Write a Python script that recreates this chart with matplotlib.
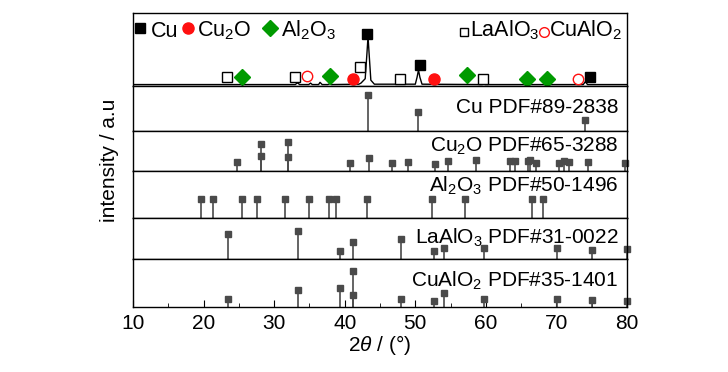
import matplotlib
matplotlib.use("Agg")
from matplotlib import pyplot as plt
from matplotlib.ticker import MultipleLocator

plt.rcParams["font.family"] = ["Liberation Sans", "DejaVu Sans"]
plt.rcParams["mathtext.fontset"] = "custom"
plt.rcParams["mathtext.rm"] = "Liberation Sans"
plt.rcParams["mathtext.it"] = "Liberation Sans:italic"

# measured pattern (top panel), 2theta vs relative intensity
pattern_x = [10, 33.0, 33.3, 33.6, 34.9, 35.15, 35.4, 36.3, 36.5, 36.8, 37.6, 37.85, 38.1,
             42.0, 42.3, 42.9, 43.15, 43.3, 43.45, 43.7, 44.2,
             50.0, 50.25, 50.45, 50.65, 50.95, 59.5, 59.7, 59.9, 73.8, 74.1, 74.4, 80]
pattern_y = [0.02, 0.02, 0.045, 0.02, 0.02, 0.04, 0.02, 0.02, 0.05, 0.02, 0.02, 0.03, 0.02,
             0.025, 0.04, 0.1, 0.45, 0.68, 0.45, 0.08, 0.025,
             0.025, 0.12, 0.22, 0.12, 0.025, 0.02, 0.035, 0.02, 0.02, 0.06, 0.02, 0.02]

# phase markers on the measured pattern
cu_mark_x = [43.1, 50.7, 74.7]
cu_mark_y = [0.71, 0.29, 0.12]
cu2o_mark_x = [41.2, 52.6]
cu2o_mark_y = [0.10, 0.10]
al2o3_mark_x = [25.5, 37.9, 57.3, 65.8, 68.6]
al2o3_mark_y = [0.12, 0.14, 0.15, 0.10, 0.10]
laalo3_mark_x = [23.3, 33.0, 42.2, 47.9, 59.6]
laalo3_mark_y = [0.13, 0.12, 0.26, 0.10, 0.10]
cualo2_mark_x = [34.6, 73.1]
cualo2_mark_y = [0.14, 0.10]

# reference cards
cu_pdf_x = [43.3, 50.4, 74.1]
cu_pdf_h = [0.80, 0.43, 0.24]
cu2o_pdf_x = [24.7, 28.1, 28.1, 31.9, 31.9, 40.7, 43.5, 46.7, 49.0, 52.8, 54.7, 58.6,
              63.4, 64.1, 65.9, 66.3, 67.1, 70.3, 71.0, 71.8, 74.4, 79.7]
cu2o_pdf_h = [0.22, 0.67, 0.37, 0.72, 0.34, 0.19, 0.33, 0.19, 0.22, 0.18, 0.26, 0.27,
              0.25, 0.24, 0.25, 0.28, 0.19, 0.19, 0.24, 0.22, 0.22, 0.19]
al2o3_pdf_x = [19.6, 21.3, 25.5, 27.5, 31.6, 35.0, 37.8, 38.7, 43.2, 52.3, 57.1, 66.5, 68.1]
al2o3_pdf_h = [0.40] * 13
laalo3_pdf_x = [23.4, 33.4, 39.3, 41.2, 48.0, 52.6, 54.1, 59.8, 70.1, 75.1, 80.0]
laalo3_pdf_h = [0.60, 0.68, 0.20, 0.41, 0.49, 0.20, 0.28, 0.28, 0.27, 0.22, 0.25]
cualo2_pdf_x = [23.4, 33.4, 39.3, 41.2, 41.2, 48.0, 52.6, 54.1, 59.8, 70.1, 75.1, 80.0]
cualo2_pdf_h = [0.16, 0.36, 0.40, 0.74, 0.25, 0.16, 0.13, 0.29, 0.17, 0.16, 0.14, 0.13]

card_labels = ["Cu PDF#89-2838", "Cu$_2$O PDF#65-3288", "Al$_2$O$_3$ PDF#50-1496",
               "LaAlO$_3$ PDF#31-0022", "CuAlO$_2$ PDF#35-1401"]

RED = "#ff1010"
GREEN = "#009a00"
STICK = "#4a4a4a"


def draw_sticks(ax, xs, hs, label, label_y):
    """
    Draw stick pattern of a reference card
    """
    ax.vlines(xs, 0, hs, color=STICK, lw=1.2)
    ax.plot(xs, hs, "s", color=STICK, ms=4.5, clip_on=False)
    ax.text(0.982, label_y, label, transform=ax.transAxes, ha="right",
            va="baseline", fontsize=15)


fig, axes = plt.subplots(6, 1, figsize=(7.28, 3.72), dpi=100, sharex=True,
                         gridspec_kw=dict(height_ratios=[73, 45, 40, 47, 41, 48], hspace=0))
fig.subplots_adjust(left=0.1827, right=0.8613, bottom=0.1747, top=0.965)

for ax in axes:
    ax.set_ylim(0, 1)
    ax.set_yticks([])
    ax.tick_params(axis="x", which="both", bottom=False, top=False, labelbottom=False)
    for sp in ax.spines.values():
        sp.set_linewidth(1.0)

# top panel: measured pattern
top = axes[0]
top.plot(pattern_x, pattern_y, color="black", lw=1.0)
top.plot(laalo3_mark_x, laalo3_mark_y, "s", mfc="white", mec="black", mew=1.0, ms=6.5)
top.plot(cualo2_mark_x, cualo2_mark_y, "o", mfc="white", mec=RED, mew=1.0, ms=7.5)
top.plot(al2o3_mark_x, al2o3_mark_y, "D", color=GREEN, ms=8)
top.plot(cu2o_mark_x, cu2o_mark_y, "o", color=RED, ms=8)
top.plot(cu_mark_x, cu_mark_y, "s", color="black", ms=7)

# legend written inside the top panel
top.plot([11.0], [0.79], "s", color="black", ms=6.5)
top.text(12.6, 0.675, "Cu", fontsize=15.5, va="baseline")
top.plot([17.8], [0.79], "o", color=RED, ms=8)
top.text(19.1, 0.675, "Cu$_2$O", fontsize=15.5, va="baseline")
top.plot([29.4], [0.79], "D", color=GREEN, ms=8.5)
top.text(31.0, 0.675, "Al$_2$O$_3$", fontsize=15.5, va="baseline")
top.plot([56.9], [0.74], "s", mfc="white", mec="black", mew=1.0, ms=6)
top.text(57.7, 0.675, "LaAlO$_3$", fontsize=15.5, va="baseline")
top.plot([68.2], [0.74], "o", mfc="white", mec=RED, mew=1.0, ms=7)
top.text(68.9, 0.675, "CuAlO$_2$", fontsize=15.5, va="baseline")

draw_sticks(axes[1], cu_pdf_x, cu_pdf_h, card_labels[0], 0.39)
draw_sticks(axes[2], cu2o_pdf_x, cu2o_pdf_h, card_labels[1], 0.48)
draw_sticks(axes[3], al2o3_pdf_x, al2o3_pdf_h, card_labels[2], 0.56)
draw_sticks(axes[4], laalo3_pdf_x, laalo3_pdf_h, card_labels[3], 0.37)
draw_sticks(axes[5], cualo2_pdf_x, cualo2_pdf_h, card_labels[4], 0.42)

bottom = axes[-1]
bottom.set_xlim(10, 80)
bottom.xaxis.set_major_locator(MultipleLocator(10))
bottom.xaxis.set_minor_locator(MultipleLocator(5))
bottom.tick_params(axis="x", which="both", bottom=True, labelbottom=True,
                   direction="in", labelsize=15, pad=5)
bottom.tick_params(axis="x", which="major", length=5)
bottom.tick_params(axis="x", which="minor", length=3)
bottom.set_xlabel("2$\\mathit{\\theta}$ / (°)", fontsize=15, labelpad=0)

fig.text(0.151, 0.5699, "intensity / a.u", rotation=90, fontsize=15,
         ha="center", va="center")

fig.savefig("out.png", dpi=100)
